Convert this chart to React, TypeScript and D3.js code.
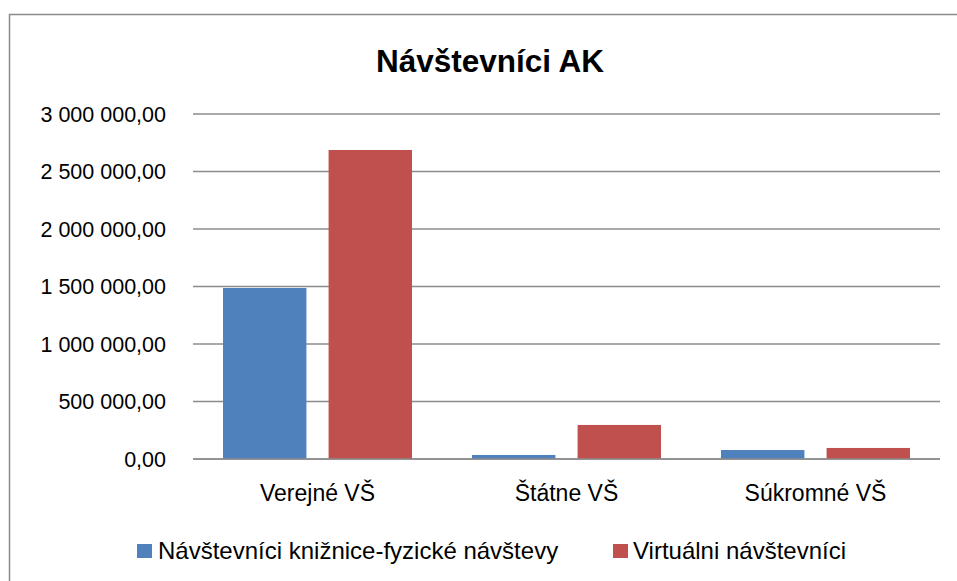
import { useMemo } from 'react';
import * as d3 from 'd3';

const TITLE = 'Návštevníci AK';
const CATEGORIES = ['Verejné VŠ', 'Štátne VŠ', 'Súkromné VŠ'];
const SERIES = ['Návštevníci knižnice-fyzické návštevy', 'Virtuálni návštevníci'];
const PHYSICAL = [1487000, 35000, 78000];
const VIRTUAL = [2687000, 296000, 96000];
const Y_TICKS = [0, 500000, 1000000, 1500000, 2000000, 2500000, 3000000];
const COLORS = ['#4F81BD', '#C0504D'];

const W = 957;
const H = 581;
const FONT = '"Liberation Sans", Arial, sans-serif';

// 3 000 000,00 style
function fmt(v: number) {
  const s = d3.format(',.2f')(v);
  return s.replace(/,/g, ' ').replace('.', ',');
}

export default function App() {
  const plot = { left: 193, right: 940, top: 114, bottom: 459 };

  const x0 = useMemo(() => d3.scaleBand<string>()
    .domain(CATEGORIES)
    .range([plot.left, plot.right])
    .padding(0), []);

  const x1 = useMemo(() => d3.scaleBand<string>()
    .domain(SERIES)
    .range([30, x0.bandwidth() - 30])
    .paddingInner(0.21), [x0]);

  const y = useMemo(() => d3.scaleLinear()
    .domain([0, 3000000])
    .range([plot.bottom, plot.top]), []);

  const values = [PHYSICAL, VIRTUAL];

  return (
    <svg width={W} height={H} style={{ position: 'absolute', left: 0, top: 0, display: 'block' }}>
      <rect x={0} y={0} width={W} height={H} fill="#fff" />
      {/* chart border */}
      <rect x={9.5} y={14.5} width={W + 10} height={H + 10} fill="none" stroke="#8a8a8a" strokeWidth={1.5} />

      <text x={490} y={72} textAnchor="middle" fontFamily={FONT} fontWeight="bold" fontSize={31.5} fill="#000">
        {TITLE}
      </text>

      {/* gridlines + y labels */}
      {Y_TICKS.map(t => (
        <g key={t}>
          <line x1={plot.left} x2={plot.right} y1={y(t)} y2={y(t)} stroke="#8c8c8c" strokeWidth={1.5} />
          <text x={166} y={y(t)} dy="0.36em" textAnchor="end" fontFamily={FONT} fontSize={21.5} fill="#000">
            {fmt(t)}
          </text>
        </g>
      ))}

      {/* bars */}
      {CATEGORIES.map((c, ci) => (
        <g key={c} transform={`translate(${x0(c)},0)`}>
          {SERIES.map((s, si) => (
            <rect
              key={s}
              x={x1(s)}
              y={y(values[si][ci])}
              width={x1.bandwidth()}
              height={plot.bottom - y(values[si][ci])}
              fill={COLORS[si]}
            />
          ))}
        </g>
      ))}

      <line x1={plot.left} x2={plot.right} y1={plot.bottom} y2={plot.bottom} stroke="#8c8c8c" strokeWidth={1.5} />

      {/* category labels */}
      {CATEGORIES.map(c => (
        <text key={c} x={(x0(c) ?? 0) + x0.bandwidth() / 2} y={501} textAnchor="middle"
          fontFamily={FONT} fontSize={23} fill="#000">
          {c}
        </text>
      ))}

      {/* legend */}
      <g fontFamily={FONT} fontSize={24} fill="#000">
        <rect x={137} y={544} width={15} height={14} fill={COLORS[0]} />
        <text x={158} y={559}>{SERIES[0]}</text>
        <rect x={613} y={544} width={15} height={14} fill={COLORS[1]} />
        <text x={633} y={559}>{SERIES[1]}</text>
      </g>
    </svg>
  );
}
